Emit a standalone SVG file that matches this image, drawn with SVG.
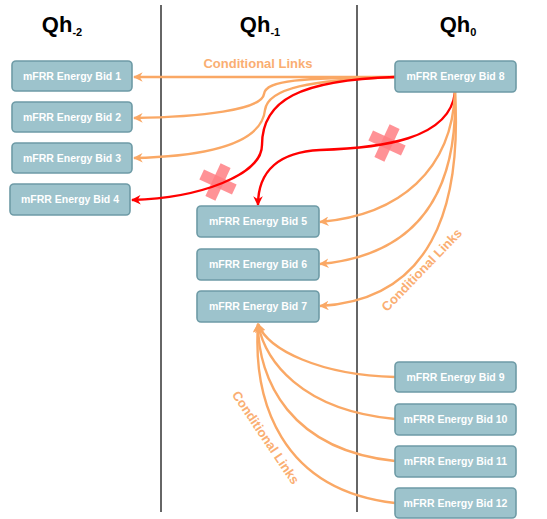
<svg xmlns="http://www.w3.org/2000/svg" width="547" height="519" viewBox="0 0 547 519">
<style>
.box rect{fill:#9DC3CC;stroke:#6E9BA6;stroke-width:1.6}
.box text{fill:#fff;font-family:"Liberation Sans",Arial,sans-serif;font-weight:bold;font-size:10.5px;text-anchor:middle}
.title{font-family:"Liberation Sans",Arial,sans-serif;font-weight:bold;font-size:22px;fill:#000;text-anchor:middle}
.sub{font-size:11px}
.or{fill:none;stroke:#FAA865;stroke-width:2.4;marker-end:url(#ao)}
.rd{fill:none;stroke:#FF0000;stroke-width:2.4;marker-end:url(#ar)}
.lbl{font-family:"Liberation Sans",Arial,sans-serif;font-weight:bold;font-size:13px;fill:#FAAE72;text-anchor:middle}
.sep{stroke:#666;stroke-width:2}
.x rect{fill:#FF7F84;opacity:0.85}
</style>
<defs>
<marker id="ao" viewBox="0 0 10 10" refX="9" refY="5" markerWidth="4" markerHeight="4" orient="auto" markerUnits="strokeWidth">
<path d="M0,0 L10,5 L0,10 L3,5 Z" fill="#FAA865"/>
</marker>
<marker id="ar" viewBox="0 0 10 10" refX="9" refY="5" markerWidth="4" markerHeight="4" orient="auto" markerUnits="strokeWidth">
<path d="M0,0 L10,5 L0,10 L3,5 Z" fill="#FF0000"/>
</marker>
</defs>

<line class="sep" x1="161" y1="5" x2="161" y2="512"/>
<line class="sep" x1="357" y1="5" x2="357" y2="512"/>

<text class="title" x="62" y="32">Qh<tspan class="sub" dy="4">-2</tspan></text>
<text class="title" x="260" y="32">Qh<tspan class="sub" dy="4">-1</tspan></text>
<text class="title" x="458" y="32">Qh<tspan class="sub" dy="4">0</tspan></text>

<g class="x" transform="translate(218,182) rotate(25)">
<rect x="-18" y="-5.5" width="36" height="11"/>
<rect x="-5.5" y="-18" width="11" height="36"/>
</g>
<g class="x" transform="translate(387,143) rotate(25)">
<rect x="-18" y="-5.5" width="36" height="11"/>
<rect x="-5.5" y="-18" width="11" height="36"/>
</g>

<g id="connectors">
<path class="or" d="M395,77 L134,77"/>
<path class="or" d="M395,77 C300,78 266,80 264,94 C262,110 200,117 134,118"/>
<path class="or" d="M395,77 C310,80 268,88 265,110 C262,140 220,156 134,158"/>
<path class="rd" d="M395,77 C300,80 262,100 262,145 C262,175 200,198 132,200"/>
<path class="rd" d="M455,92 C450,140 380,148 320,150 C280,152 258,170 258,205"/>
<path class="or" d="M455,92 C452,170 400,215 320,222"/>
<path class="or" d="M455,92 C458,190 420,255 320,264"/>
<path class="or" d="M455,92 C462,210 430,300 320,306"/>
<path class="or" d="M395,377 C320,375 268,350 258,324"/>
<path class="or" d="M395,419 C300,410 265,360 258,324"/>
<path class="or" d="M395,461 C290,450 258,380 258,324"/>
<path class="or" d="M395,503 C280,490 253,400 258,324"/>
</g>

<text class="lbl" x="258" y="68">Conditional Links</text>
<text class="lbl" transform="translate(425,273) rotate(-46)">Conditional Links</text>
<text class="lbl" transform="translate(262,440) rotate(56)">Conditional Links</text>

<g id="bid1" class="box"><rect x="12" y="61" width="120" height="30" rx="4"/><text x="72" y="80">mFRR Energy Bid 1</text></g>
<g id="bid2" class="box"><rect x="12" y="102" width="120" height="30" rx="4"/><text x="72" y="121">mFRR Energy Bid 2</text></g>
<g id="bid3" class="box"><rect x="12" y="143" width="120" height="30" rx="4"/><text x="72" y="162">mFRR Energy Bid 3</text></g>
<g id="bid4" class="box"><rect x="10" y="184" width="120" height="31" rx="4"/><text x="70" y="203">mFRR Energy Bid 4</text></g>
<g id="bid5" class="box"><rect x="197" y="206" width="122" height="31" rx="4"/><text x="258" y="225">mFRR Energy Bid 5</text></g>
<g id="bid6" class="box"><rect x="197" y="249" width="122" height="31" rx="4"/><text x="258" y="268">mFRR Energy Bid 6</text></g>
<g id="bid7" class="box"><rect x="197" y="291" width="122" height="31" rx="4"/><text x="258" y="310">mFRR Energy Bid 7</text></g>
<g id="bid8" class="box"><rect x="395" y="61" width="121" height="31" rx="4"/><text x="455.5" y="80">mFRR Energy Bid 8</text></g>
<g id="bid9" class="box"><rect x="395" y="362" width="121" height="30" rx="4"/><text x="455.5" y="381">mFRR Energy Bid 9</text></g>
<g id="bid10" class="box"><rect x="395" y="404" width="121" height="31" rx="4"/><text x="455.5" y="423">mFRR Energy Bid 10</text></g>
<g id="bid11" class="box"><rect x="395" y="446" width="121" height="31" rx="4"/><text x="455.5" y="465">mFRR Energy Bid 11</text></g>
<g id="bid12" class="box"><rect x="395" y="488" width="121" height="30" rx="4"/><text x="455.5" y="507">mFRR Energy Bid 12</text></g>
</svg>
